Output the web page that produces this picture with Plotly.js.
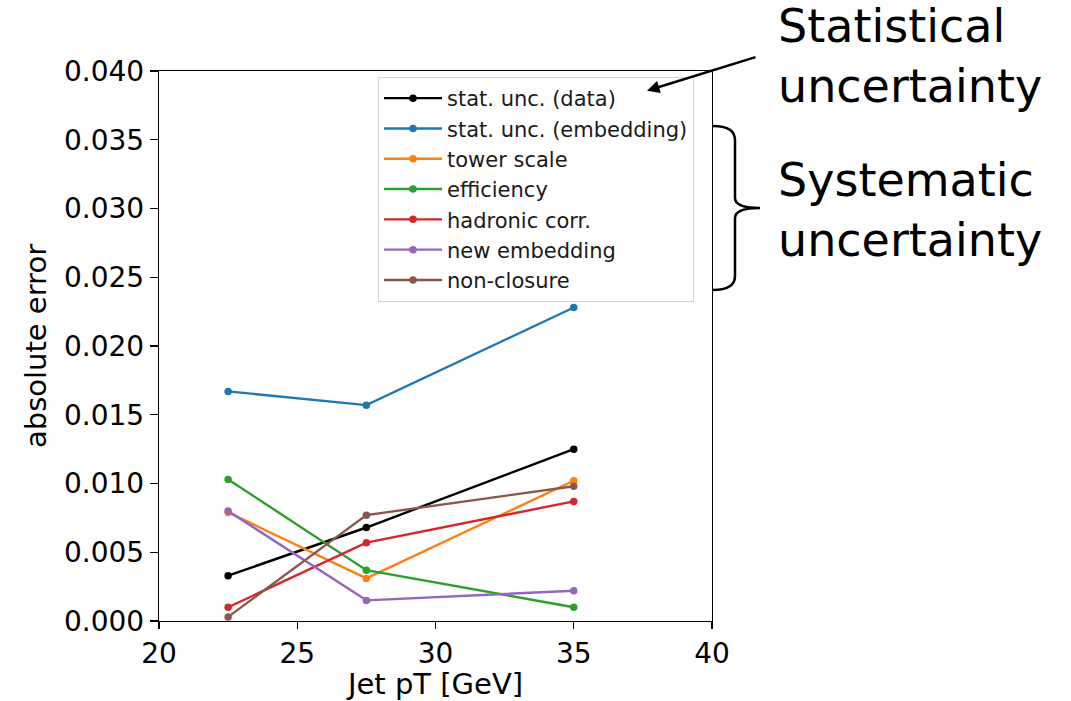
<!DOCTYPE html>
<html>
<head>
<meta charset="utf-8">
<script src="https://cdn.plot.ly/plotly-3.0.1.min.js"></script>
<style>html,body{margin:0;padding:0;background:#fff;}#plot{width:1071px;height:701px;}</style>
</head>
<body>
<div id="plot"></div>
<script>
const jetPt = [22.5, 27.5, 35];
const seriesNames = ["stat. unc. (data)", "stat. unc. (embedding)", "tower scale", "efficiency", "hadronic corr.", "new embedding", "non-closure"];
const statData = [0.0033, 0.0068, 0.0125];
const statEmbedding = [0.0167, 0.0157, 0.0228];
const towerScale = [0.0079, 0.0031, 0.0102];
const efficiency = [0.0103, 0.0037, 0.0010];
const hadronicCorr = [0.0010, 0.0057, 0.0087];
const newEmbedding = [0.0080, 0.0015, 0.0022];
const nonClosure = [0.0003, 0.0077, 0.0098];
const seriesValues = [statData, statEmbedding, towerScale, efficiency, hadronicCorr, newEmbedding, nonClosure];
const colors = ["#000000", "#1f77b4", "#ff7f0e", "#2ca02c", "#d62728", "#9467bd", "#8c564b"];

const traces = seriesNames.map((n, i) => ({
  x: jetPt, y: seriesValues[i], name: n, type: "scatter", mode: "lines+markers",
  line: {color: colors[i], width: 2.4}, marker: {color: colors[i], size: 7.5}
}));

// plot area in pixels
const L = 159, R = 712, T = 71, B = 621;
const px = v => (v - L) / (R - L);
const py = v => (B - v) / (B - T);

const brace = `M ${px(713)},${py(126)} Q ${px(735)},${py(126)} ${px(735)},${py(140)} L ${px(735)},${py(198)} Q ${px(735)},${py(208)} ${px(760)},${py(208)} Q ${px(735)},${py(208)} ${px(735)},${py(218)} L ${px(735)},${py(276)} Q ${px(735)},${py(290)} ${px(713)},${py(290)}`;

const font = "DejaVu Sans, sans-serif";
const bigFont = {family: "DejaVu Sans, sans-serif", size: 46, color: "#000"};
const layout = {
  width: 1071, height: 701,
  margin: {l: L, r: 1071 - R, t: T, b: 701 - B, pad: 0},
  paper_bgcolor: "#fff", plot_bgcolor: "#fff",
  showlegend: true,
  font: {family: font, color: "#000"},
  xaxis: {
    range: [20, 40], tickvals: [20, 25, 30, 35, 40], ticktext: ["20", "25", "30", "35", "40"],
    showgrid: false, zeroline: false, showline: true, mirror: true, linecolor: "#000", linewidth: 1.2,
    ticks: "outside", ticklen: 7, tickwidth: 1.2, tickcolor: "#000",
    tickfont: {family: font, size: 28, color: "#000"},
    title: {text: "Jet pT [GeV]", font: {family: font, size: 29, color: "#000"}, standoff: 10}
  },
  yaxis: {
    range: [0, 0.04], tickvals: [0, 0.005, 0.01, 0.015, 0.02, 0.025, 0.03, 0.035, 0.04],
    ticktext: ["0.000", "0.005", "0.010", "0.015", "0.020", "0.025", "0.030", "0.035", "0.040"],
    showgrid: false, zeroline: false, showline: true, mirror: true, linecolor: "#000", linewidth: 1.2,
    ticks: "outside", ticklen: 8, tickwidth: 1.2, tickcolor: "#000",
    tickfont: {family: font, size: 28, color: "#000"},
    title: {text: "absolute error", font: {family: font, size: 29, color: "#000"}, standoff: 8}
  },
  legend: {
    x: px(378), y: py(77), xanchor: "left", yanchor: "top",
    bgcolor: "rgba(255,255,255,0.8)", bordercolor: "#d6d6d6", borderwidth: 1,
    font: {family: font, size: 21, color: "#1a1a1a"}, tracegroupgap: 0, itemwidth: 58
  },
  shapes: [
    {type: "path", xref: "paper", yref: "paper", path: brace, line: {color: "#000", width: 2.5}}
  ],
  annotations: [
    {xref: "paper", yref: "paper", x: px(647), y: py(90.7), ax: 110, ay: -34, text: "",
     showarrow: true, arrowhead: 2, arrowsize: 1, arrowwidth: 2.5, arrowcolor: "#000"},
    {xref: "paper", yref: "paper", x: px(776), y: py(-3), xanchor: "left", yanchor: "top", align: "left",
     text: "Statistical<br>uncertainty", showarrow: false, font: bigFont},
    {xref: "paper", yref: "paper", x: px(776), y: py(151), xanchor: "left", yanchor: "top", align: "left",
     text: "Systematic<br>uncertainty", showarrow: false, font: bigFont}
  ]
};

Plotly.newPlot("plot", traces, layout, {displayModeBar: false, staticPlot: true});
</script>
</body>
</html>
